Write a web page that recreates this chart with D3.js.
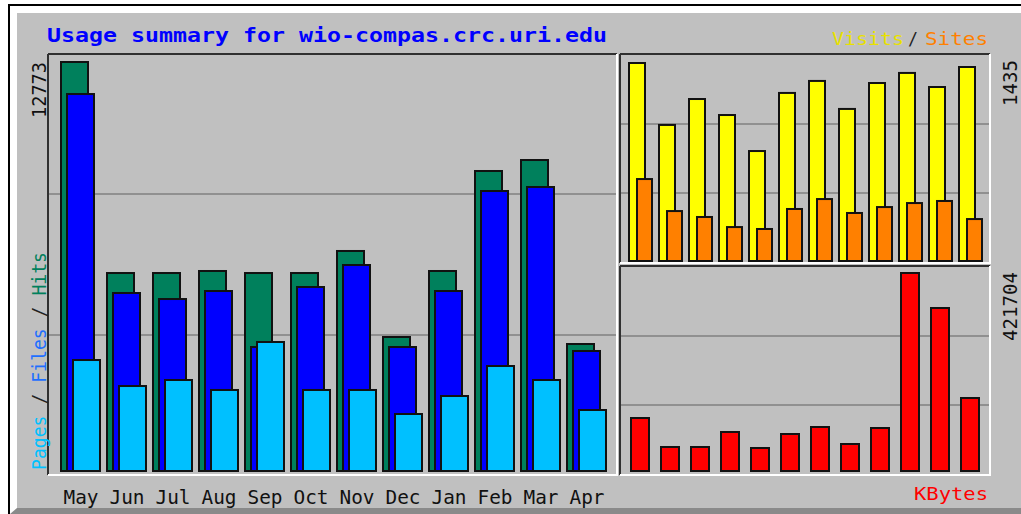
<!DOCTYPE html>
<html>
<head>
<meta charset="utf-8">
<script src="https://cdn.jsdelivr.net/npm/d3@7"></script>
<style>
  html, body { margin: 0; padding: 0; background: #fff; }
  svg { display: block; }
  text { font-family: "DejaVu Sans Mono", "Liberation Mono", monospace; }
</style>
</head>
<body>
<svg id="usage"></svg>
<script>
const months = ["May", "Jun", "Jul", "Aug", "Sep", "Oct", "Nov", "Dec", "Jan", "Feb", "Mar", "Apr"];
const hits   = [12773, 6183, 6183, 6246, 6183, 6183, 6871, 4185, 6246, 9369, 9712, 3966];
const files  = [11773, 5559, 5371, 5621, 3872, 5746, 6433, 3872, 5621, 8744, 8869, 3748];
const pages  = [3466, 2654, 2842, 2530, 4029, 2530, 2530, 1780, 2342, 3279, 2842, 1905];
const visits = [1435, 986, 1174, 1058, 797, 1218, 1305, 1102, 1290, 1363, 1261, 1406];
const sites  = [594, 362, 319, 246, 232, 377, 449, 348, 391, 420, 435, 304];
const kbytes = [112880, 51116, 51116, 83063, 48986, 78803, 93712, 57505, 91582, 421704, 347162, 155477];
const maxLabels = { hits: "12773", visits: "1435", kbytes: "421704" };

const width = 1021;
const height = 514;
const svg = d3.select("#usage").attr("width", width).attr("height", height);

// outer frame + image background with bevel
svg.append("rect").attr("x", 0).attr("y", 0).attr("width", width).attr("height", height).attr("fill", "#fff");
svg.append("rect").attr("x", 8).attr("y", 4).attr("width", width - 8).attr("height", height - 4).attr("fill", "#000");
svg.append("rect").attr("x", 10).attr("y", 6).attr("width", width - 10).attr("height", height - 6).attr("fill", "#fff");
svg.append("rect").attr("x", 17).attr("y", 13).attr("width", width - 17).attr("height", height - 13).attr("fill", "#c0c0c0");
svg.append("polygon")
  .attr("points", `10,${height} 17,508 ${width},508 ${width},${height}`)
  .attr("fill", "#8a8a8a");

function panel(x0, y0, x1, y1) {
  const g = svg.append("g");
  g.append("line").attr("x1", x0).attr("y1", y0).attr("x2", x1).attr("y2", y0).attr("stroke", "#303030").attr("stroke-width", 2);
  g.append("line").attr("x1", x0).attr("y1", y0).attr("x2", x0).attr("y2", y1).attr("stroke", "#303030").attr("stroke-width", 2);
  g.append("line").attr("x1", x0).attr("y1", y1).attr("x2", x1 + 1).attr("y2", y1).attr("stroke", "#fff").attr("stroke-width", 2);
  g.append("line").attr("x1", x1).attr("y1", y0).attr("x2", x1).attr("y2", y1).attr("stroke", "#fff").attr("stroke-width", 2);
  const h = y1 - y0;
  [1, 2].forEach(k => {
    g.append("line")
      .attr("x1", x0 + 1).attr("x2", x1 - 1)
      .attr("y1", y0 + Math.round(h * k / 3)).attr("y2", y0 + Math.round(h * k / 3))
      .attr("stroke", "#808080").attr("stroke-width", 1.5);
  });
}

panel(48, 54, 617, 475);
panel(620, 54, 990, 263);
panel(620, 266, 990, 475);

// scales
const xMain = d3.scaleBand().domain(months).range([61, 613]);
const xSide = d3.scaleBand().domain(months).range([629, 989]);
const yMain = d3.scaleLinear().domain([0, 12773]).range([471, 62]);
const yVisit = d3.scaleLinear().domain([0, 1435]).range([261, 63]);
const yKb = d3.scaleLinear().domain([0, 421704]).range([471, 273]);

function bars(values, x, y, off, w, fill) {
  svg.append("g").selectAll("rect")
    .data(values)
    .join("rect")
    .attr("x", (d, i) => x(months[i]) + off)
    .attr("y", d => y(d))
    .attr("width", w)
    .attr("height", d => y(0) - y(d))
    .attr("fill", fill)
    .attr("stroke", "#111")
    .attr("stroke-width", 2);
}

bars(hits, xMain, yMain, 0, 27, "#00805c");
bars(files, xMain, yMain, 6, 27, "#0000ff");
bars(pages, xMain, yMain, 12, 27, "#00c0ff");
bars(visits, xSide, yVisit, 0, 16, "#ffff00");
bars(sites, xSide, yVisit, 8, 15, "#ff8000");
bars(kbytes, xSide, yKb, 2, 18, "#ff0000");

// month labels
svg.append("g").selectAll("text")
  .data(months)
  .join("text")
  .attr("x", d => xMain(d) + 20)
  .attr("y", 504)
  .attr("text-anchor", "middle")
  .attr("font-size", 20)
  .attr("fill", "#111")
  .attr("textLength", 35)
  .attr("lengthAdjust", "spacingAndGlyphs")
  .text(d => d);

// title
svg.append("text")
  .attr("x", 47).attr("y", 42)
  .attr("font-size", 19).attr("font-weight", "bold")
  .attr("fill", "#0000ff")
  .attr("textLength", 560).attr("lengthAdjust", "spacingAndGlyphs")
  .text("Usage summary for wio-compas.crc.uri.edu");

// vertical max labels
function vlabel(txt, x, yEnd, len) {
  svg.append("text")
    .attr("transform", `translate(${x},${yEnd}) rotate(-90)`)
    .attr("text-anchor", "end")
    .attr("font-size", 19)
    .attr("fill", "#111")
    .attr("textLength", len).attr("lengthAdjust", "spacingAndGlyphs")
    .text(txt);
}
vlabel(maxLabels.hits, 46, 62, 56);
vlabel(maxLabels.visits, 1017, 60, 46);
vlabel(maxLabels.kbytes, 1017, 272, 69);

// left series label
const left = svg.append("text")
  .attr("transform", "translate(46,470) rotate(-90)")
  .attr("font-size", 19)
  .attr("textLength", 218).attr("lengthAdjust", "spacingAndGlyphs");
left.append("tspan").attr("fill", "#00c0ff").text("Pages");
left.append("tspan").attr("fill", "#222").text(" / ");
left.append("tspan").attr("fill", "#1e6fff").text("Files");
left.append("tspan").attr("fill", "#222").text(" / ");
left.append("tspan").attr("fill", "#00805c").text("Hits");

// right legends
function legendText(txt, x, y, len, color) {
  svg.append("text")
    .attr("x", x).attr("y", y)
    .attr("font-size", 18)
    .attr("fill", color)
    .attr("textLength", len).attr("lengthAdjust", "spacingAndGlyphs")
    .text(txt);
}
legendText("Visits", 832, 45, 72, "#e8e000");
legendText("/", 908, 45, 10, "#222");
legendText("Sites", 925, 45, 63, "#ff8000");
legendText("KBytes", 914, 500, 74, "#ff0000");
</script>
</body>
</html>
